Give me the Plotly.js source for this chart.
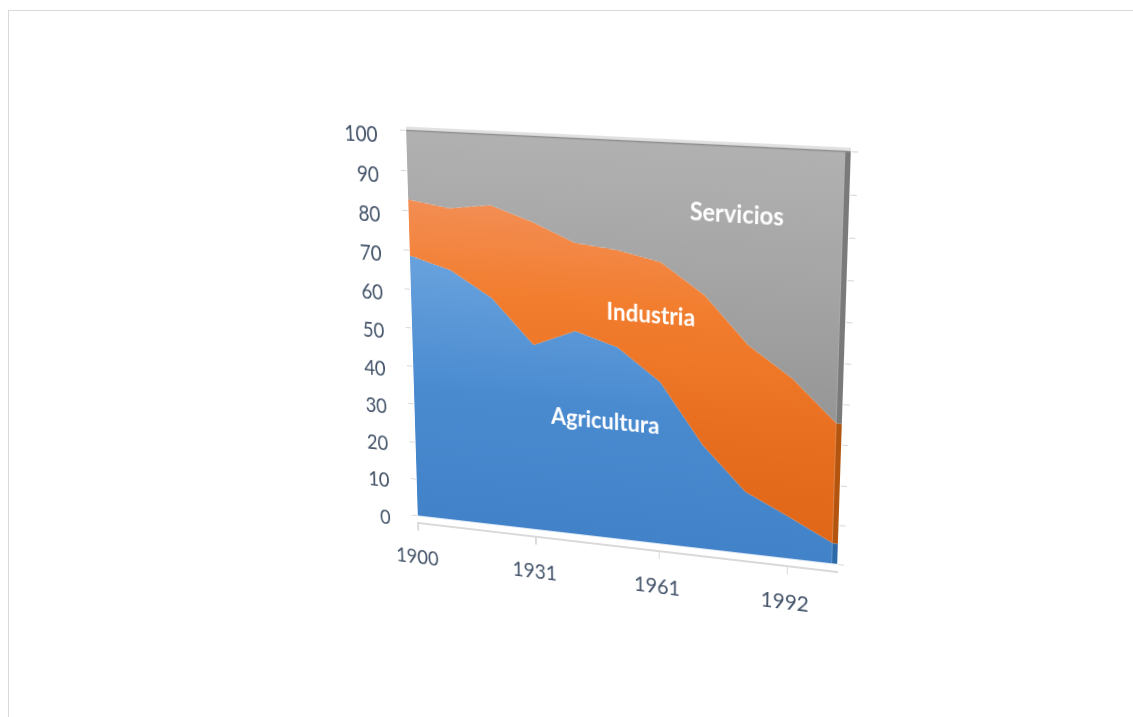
<!DOCTYPE html>
<html>
<head>
<meta charset="utf-8">
<script src="https://cdn.plot.ly/plotly-3.0.1.min.js"></script>
<style>
html,body{margin:0;padding:0;background:#ffffff;overflow:hidden;width:1133px;height:717px;}
#frame{position:absolute;left:8px;top:10px;width:1140px;height:730px;border:1px solid #d9d9d9;box-sizing:border-box;}
#chart{position:absolute;left:0;top:0;width:1133px;height:717px;transform-origin:0 0;}
</style>
</head>
<body>
<div id="frame"></div>
<div id="chart"></div>
<script>
// ---- data ----
const categories = ['1900','1910','1920','1931','1940','1950','1961','1970','1981','1992','2001'];
const agricultura = [68.7, 65.7, 59.4, 48.3, 52.7, 49.5, 41.7, 26.7, 15.9, 10.7, 5.2];
const industria   = [14.2, 15.6, 23.3, 30.9, 22.0, 24.1, 29.7, 37.4, 36.8, 34.7, 30.2];
const servicios   = [17.1, 18.7, 17.3, 20.8, 25.3, 26.4, 28.6, 35.9, 47.3, 54.6, 64.6];
const seriesNames = ['Agricultura', 'Industria', 'Servicios'];
const xTickLabels = ['1900', '1931', '1961', '1992'];
const yTickValues = [0, 10, 20, 30, 40, 50, 60, 70, 80, 90, 100];

// ---- styles ----
const gradients = [
  [[0, '#4282c8'], [0.35, '#4a8bd0'], [0.7, '#6aa3de'], [1, '#72aae1']],
  [[0, '#df6516'], [0.3, '#e86e1f'], [0.6, '#f27d2e'], [0.85, '#f38f57'], [1, '#f3925c']],
  [[0, '#8c8c8c'], [0.3, '#939393'], [0.6, '#a1a1a1'], [1, '#b1b1b1']]
];
const sideColors = ['#2f6aa8', '#b3550f', '#7a7a7a'];
const labelPos = [[4.68, 30.7], [5.76, 58.7], [7.7, 84.4]];

const values = [agricultura, industria, servicios];
const traces = values.map((v, i) => ({
  type: 'scatter',
  x: categories,
  y: v,
  name: seriesNames[i],
  mode: 'none',
  stackgroup: 'one',
  fillgradient: {type: 'vertical', start: 0, stop: 100, colorscale: gradients[i]},
  hoverinfo: 'skip'
}));

// side faces at the right end, from the stacked values of the last category
const last = categories.length - 1;
let base = 0;
const shapes = values.map((v, i) => {
  const s = {type: 'rect', xref: 'x', yref: 'y', x0: last, x1: last + 0.12,
    y0: base, y1: base + v[last], fillcolor: sideColors[i], line: {width: 0}, layer: 'above'};
  base += v[last];
  return s;
});
shapes.push({type: 'line', xref: 'paper', yref: 'y', x0: 0, x1: 1, y0: 100.6, y1: 100.6,
  line: {color: '#e2e2e2', width: 2.5}, layer: 'above'});
shapes.push({type: 'line', xref: 'x', yref: 'y', x0: 0, x1: last + 0.12, y0: 100, y1: 100,
  line: {color: '#8f8f8f', width: 1.5}, layer: 'above'});

const annotations = seriesNames.map((n, i) => ({
  x: labelPos[i][0], y: labelPos[i][1], xref: 'x', yref: 'y', text: n, showarrow: false,
  font: {family: 'Lato, "Open Sans", sans-serif', size: 23, color: '#ffffff', weight: 'bold'}
}));

const W = 1133, H = 717;
const plotL = 406, plotT = 130, plotW = 446, plotH = 392;
const layout = {
  width: W, height: H,
  margin: {l: plotL, r: W - plotL - plotW, t: plotT, b: H - plotT - plotH, pad: 0},
  paper_bgcolor: 'rgba(0,0,0,0)',
  plot_bgcolor: 'rgba(0,0,0,0)',
  showlegend: false,
  font: {family: 'Lato, "Open Sans", sans-serif', size: 21, color: '#44546a'},
  xaxis: {type: 'category', range: [0, last + 0.12], tickmode: 'array', tickvals: xTickLabels,
    ticktext: xTickLabels, ticks: 'outside', ticklen: 7, tickcolor: '#d9d9d9', tickwidth: 1.5,
    showline: true, linecolor: '#d9d9d9', linewidth: 1.5, showgrid: false, zeroline: false,
    ticklabelstandoff: 10, ticklabelshift: -2, automargin: false, fixedrange: true},
  yaxis: {range: [-1.8, 101.2], tickmode: 'array', tickvals: yTickValues, ticks: 'outside',
    ticklen: 6, tickcolor: '#d9d9d9', showgrid: false, zeroline: false, showline: true,
    linecolor: 'rgba(0,0,0,0)', mirror: 'ticks', ticklabelstandoff: 20, ticklabelshift: 5,
    automargin: false, fixedrange: true},
  shapes: shapes,
  annotations: annotations
};

function homography(src, dst) {
  const A = [], B = [];
  for (let i = 0; i < 4; i++) {
    const [x, y] = src[i], [u, v] = dst[i];
    A.push([x, y, 1, 0, 0, 0, -x * u, -y * u]); B.push(u);
    A.push([0, 0, 0, x, y, 1, -x * v, -y * v]); B.push(v);
  }
  const n = 8;
  for (let c = 0; c < n; c++) {
    let p = c;
    for (let r = c + 1; r < n; r++) if (Math.abs(A[r][c]) > Math.abs(A[p][c])) p = r;
    [A[c], A[p]] = [A[p], A[c]]; [B[c], B[p]] = [B[p], B[c]];
    for (let r = 0; r < n; r++) {
      if (r === c) continue;
      const f = A[r][c] / A[c][c];
      for (let k = c; k < n; k++) A[r][k] -= f * A[c][k];
      B[r] -= f * B[c];
    }
  }
  return B.map((b, i) => b / A[i][i]);
}

Plotly.newPlot('chart', traces, layout, {displayModeBar: false, staticPlot: true}).then(() => {
  const src = [[plotL, plotT], [plotL + plotW, plotT], [plotL + plotW, plotT + plotH], [plotL, plotT + plotH]];
  const dst = [[406, 125.5], [851, 146.5], [837, 571], [418, 522]];
  const [a, b, c, d, e, f, g, h] = homography(src, dst);
  document.getElementById('chart').style.transform =
    `matrix3d(${a},${d},0,${g},${b},${e},0,${h},0,0,1,0,${c},${f},0,1)`;
});
</script>
</body>
</html>
